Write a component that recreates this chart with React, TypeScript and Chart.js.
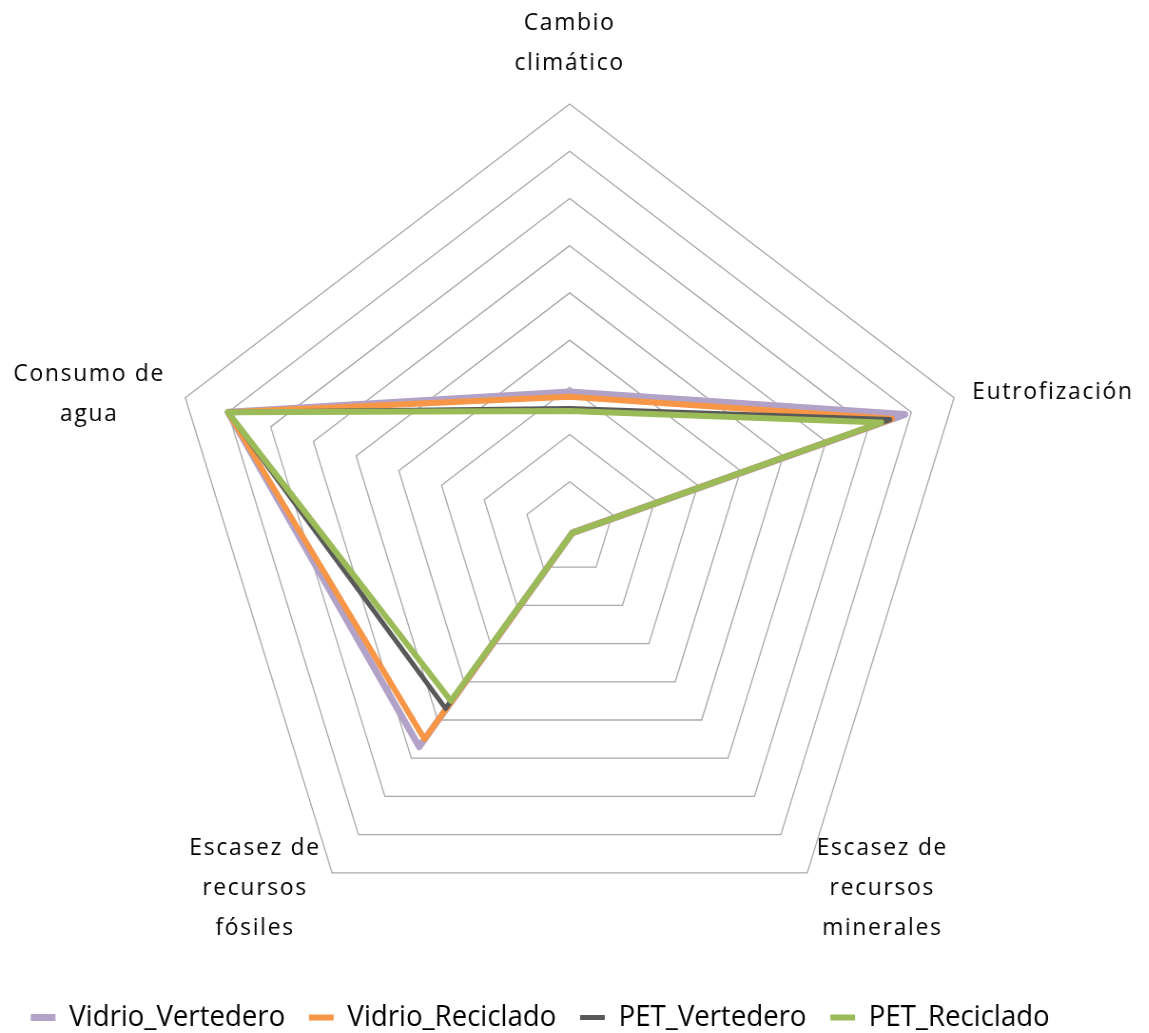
import React, { useEffect, useRef } from "react";
import { Chart, registerables } from "chart.js";

Chart.register(...registerables);

// ---- data ----
const categories: string[][] = [
  ["Cambio", "climático"],
  ["Eutrofización"],
  ["Escasez de", "recursos", "minerales"],
  ["Escasez de", "recursos", "fósiles"],
  ["Consumo de", "agua"],
];
const seriesNames = ["Vidrio_Vertedero", "Vidrio_Reciclado", "PET_Vertedero", "PET_Reciclado"];
const vidrioVertedero = [0.29, 0.785, 0.01, 0.57, 0.8];
const vidrioReciclado = [0.28, 0.755, 0.01, 0.55, 0.8];
const petVertedero = [0.255, 0.75, 0.01, 0.47, 0.8];
const petReciclado = [0.25, 0.73, 0.01, 0.45, 0.8];
const scaleMax = 0.9;
const scaleStep = 0.1;

// ---- styles ----
const colors = ["#B3A2C7", "#F79646", "#595959", "#9BBB59"];
const widths = [7, 6, 5, 6];
const CANVAS_W = 1208;
const CANVAS_H = 1042;
const X_SQUEEZE = 0.951;
const LABEL_OFFSETS: [number, number][] = [
  [0, -61],
  [104, -6],
  [79, 15],
  [-81, 15],
  [-101, -4],
];

const axisLabelPlugin = {
  id: "axisLabels",
  afterDraw(chart: any) {
    const scale = chart.scales.r;
    const ctx = chart.ctx as CanvasRenderingContext2D;
    ctx.save();
    ctx.font = '24px "Open Sans"';
    (ctx as any).letterSpacing = "1.8px";
    ctx.fillStyle = "#000";
    ctx.textAlign = "center";
    ctx.textBaseline = "middle";
    categories.forEach((lines, i) => {
      const p = scale.getPointPosition(i, scale.drawingArea);
      const [dx, dy] = LABEL_OFFSETS[i];
      const n = lines.length;
      lines.forEach((ln, j) => {
        ctx.fillText(ln, p.x + dx, p.y + dy + (j - (n - 1) / 2) * 40);
      });
    });
    ctx.restore();
  },
};

export default function App() {
  const ref = useRef<HTMLCanvasElement | null>(null);
  useEffect(() => {
    if (!ref.current) return;
    const all = [vidrioVertedero, vidrioReciclado, petVertedero, petReciclado];
    const chart = new Chart(ref.current, {
      type: "radar",
      data: {
        labels: categories,
        datasets: all.map((d, i) => ({
          label: seriesNames[i],
          data: d,
          borderColor: colors[i],
          backgroundColor: colors[i],
          borderWidth: widths[i],
          borderCapStyle: "round" as const,
          borderJoinStyle: "round" as const,
          pointRadius: 0,
          pointHoverRadius: 0,
          fill: false,
          tension: 0,
          order: all.length - 1 - i,
        })),
      },
      options: {
        animation: false,
        responsive: false,
        layout: { padding: { top: 104, left: 0, right: 72, bottom: 0 } },
        scales: {
          r: {
            min: 0,
            max: scaleMax,
            ticks: { display: false, stepSize: scaleStep },
            grid: { color: "#A8A8A8", lineWidth: 1.3, circular: false },
            angleLines: { display: false },
            pointLabels: { display: false },
          },
        },
        plugins: {
          tooltip: { enabled: false },
          title: {
            display: true,
            text: " ",
            position: "bottom",
            weight: 500,
            font: { size: 1 },
            padding: { top: 21, bottom: 0 },
          },
          subtitle: {
            display: true,
            text: " ",
            position: "left",
            fullSize: false,
            font: { size: 1 },
            padding: { top: 61.6, bottom: 0 },
          },
          legend: {
            position: "bottom",
            labels: {
              usePointStyle: true,
              pointStyle: "line",
              pointStyleWidth: 26,
              padding: 25,
              color: "#000",
              font: { family: "Open Sans", size: 29 },
              sort: (a: any, b: any) => a.datasetIndex - b.datasetIndex,
            },
          },
        },
      } as any,
      plugins: [axisLabelPlugin],
    });
    return () => chart.destroy();
  }, []);
  return (
    <div
      style={{
        position: "fixed",
        left: 0,
        top: 0,
        width: 1149,
        height: 1033,
        overflow: "hidden",
        background: "#fff",
      }}
    >
      <div style={{ transform: `scaleX(${X_SQUEEZE})`, transformOrigin: "0 0", width: CANVAS_W }}>
        <canvas
          ref={ref}
          width={CANVAS_W}
          height={CANVAS_H}
          style={{ width: CANVAS_W, height: CANVAS_H, display: "block" }}
        />
      </div>
    </div>
  );
}
